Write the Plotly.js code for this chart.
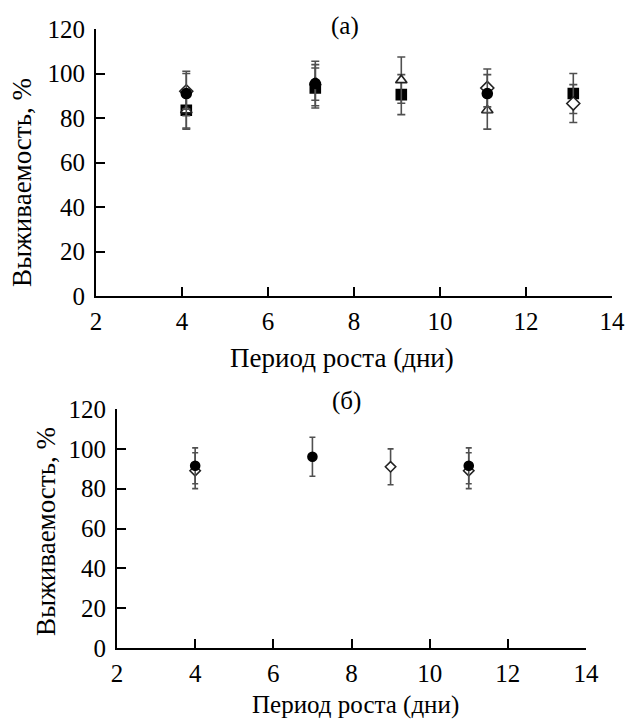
<!DOCTYPE html>
<html>
<head>
<meta charset="utf-8">
<script src="https://cdn.plot.ly/plotly-3.0.1.min.js"></script>
<style>html,body{margin:0;padding:0;background:#fff;}#chart{width:628px;height:720px;}</style>
</head>
<body>
<div id="chart"></div>
<script>
// Panel (а)
const circleA_x = [4.1, 7.1, 11.1];
const circleA_y = [91, 95.5, 91];
const circleA_err = [10, 10, 8.5];
const squareA_x = [4.1, 7.1, 9.1, 13.1];
const squareA_y = [83.5, 93.5, 90.5, 91];
const squareA_err = [8.5, 9, 9, 9];
const triangleA_x = [4.1, 7.1, 9.1, 11.1];
const triangleA_y = [83.5, 96, 97, 83.5];
const triangleA_err = [8, 8, 10.4, 8.5];
const diamondA_x = [4.1, 11.1, 13.1];
const diamondA_y = [92, 93.5, 86.5];
const diamondA_err = [8, 8.5, 8.5];
// Panel (б)
const circleB_x = [4, 7, 11];
const circleB_y = [91.5, 96, 91.5];
const circleB_err = [9, 9.8, 9];
const diamondB_x = [4, 9, 11];
const diamondB_y = [89, 91, 89];
const diamondB_err = [9, 9, 9];

const xTicks = [2, 4, 6, 8, 10, 12, 14];
const yTicks = [0, 20, 40, 60, 80, 100, 120];
const titleA = '(а)';
const titleB = '(б)';
const xTitle = 'Период роста (дни)';
const yTitle = 'Выживаемость, %';

const FONT = '"Liberation Serif", "Times New Roman", serif';

function tr(x, y, e, sym, filled, xa, ya, size, ew) {
  return {
    x: x, y: y, xaxis: xa, yaxis: ya, type: 'scatter', mode: 'markers',
    error_y: {type: 'data', array: e, visible: true, color: '#505050', thickness: 1.6, width: ew},
    marker: {symbol: sym, size: size, color: filled ? '#000' : '#fff',
             line: {color: filled ? '#000' : '#222', width: 1.6}},
    showlegend: false, hoverinfo: 'skip'
  };
}

const data = [
  tr(squareA_x, squareA_y, squareA_err, 'square', true, 'x', 'y', 10, 4),
  tr(triangleA_x, triangleA_y, triangleA_err, 'triangle-up', false, 'x', 'y', 10, 4),
  tr(diamondA_x, diamondA_y, diamondA_err, 'diamond', false, 'x', 'y', 10, 4),
  tr(circleA_x, circleA_y, circleA_err, 'circle', true, 'x', 'y', 10, 4),
  tr(diamondB_x, diamondB_y, diamondB_err, 'diamond', false, 'x2', 'y2', 8, 3),
  tr(circleB_x, circleB_y, circleB_err, 'circle', true, 'x2', 'y2', 9, 3)
];

function xax(domain, anchor) {
  return {domain: domain, anchor: anchor, range: [2, 14], tickvals: xTicks, ticktext: xTicks.map(String),
    showline: true, linecolor: '#000', linewidth: 2, ticks: 'inside', ticklen: 9, tickwidth: 2, tickcolor: '#000',
    showgrid: false, zeroline: false, tickfont: {family: FONT, size: 25, color: '#000'}, ticklabelstandoff: 2};
}
function yax(domain, anchor) {
  return {domain: domain, anchor: anchor, range: [0, 120], tickvals: yTicks, ticktext: yTicks.map(String),
    showline: true, linecolor: '#000', linewidth: 2, ticks: 'inside', ticklen: 9, tickwidth: 2, tickcolor: '#000',
    showgrid: false, zeroline: false, tickfont: {family: FONT, size: 25, color: '#000'}, ticklabelstandoff: 4};
}

const ann = (text, x, y, angle, size) => ({text: text, x: x / 628, y: 1 - y / 720, xref: 'paper', yref: 'paper',
  showarrow: false, xanchor: 'center', yanchor: 'middle', textangle: angle || 0,
  font: {family: FONT, size: size, color: '#000'}});

const layout = {
  width: 628, height: 720, margin: {l: 0, r: 0, t: 0, b: 0},
  paper_bgcolor: '#fff', plot_bgcolor: '#fff',
  xaxis: xax([96 / 628, 612 / 628], 'y'),
  yaxis: yax([1 - 296 / 720, 1 - 29 / 720], 'x'),
  xaxis2: xax([117 / 628, 586 / 628], 'y2'),
  yaxis2: yax([1 - 648 / 720, 1 - 409 / 720], 'x2'),
  annotations: [
    ann(titleA, 345, 26, 0, 25), ann(titleB, 346, 401, 0, 25),
    ann(xTitle, 342, 358, 0, 27), ann(xTitle, 355, 705, 0, 25),
    ann(yTitle, 22, 183, -90, 27), ann(yTitle, 46, 532, -90, 27)
  ]
};

Plotly.newPlot('chart', data, layout, {displayModeBar: false, staticPlot: true});
</script>
</body>
</html>
